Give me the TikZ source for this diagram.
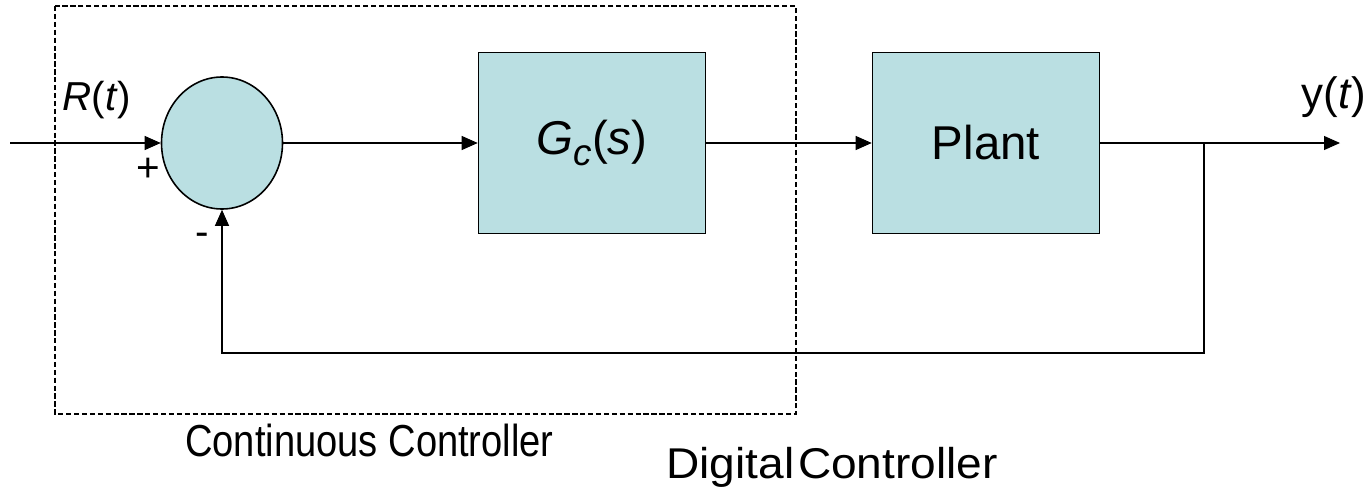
\documentclass[tikz,border=0pt]{standalone}
\usepackage{fontspec}
\setmainfont{Liberation Sans}
\usepackage{tikz}
\usetikzlibrary{positioning,arrows.meta,shapes.geometric}
\definecolor{blockFill}{HTML}{BADFE2}
\definecolor{lineDark}{HTML}{000000}

\begin{document}
\begin{tikzpicture}[x=0.2mm,y=-0.2mm,
  block/.style={draw=lineDark,line width=0.9pt,fill=blockFill,minimum width=4.54cm,minimum height=3.62cm,font=\fontsize{27}{30}\selectfont},
  sumnode/.style={ellipse,draw=lineDark,line width=0.9pt,fill=blockFill,minimum width=2.42cm,minimum height=2.64cm,inner sep=0pt},
  sig/.style={line width=0.6pt,-{Triangle[length=0.32cm,width=0.28cm]}},
  lbl/.style={font=\fontsize{23}{26}\selectfont,inner sep=0pt},
  caption/.style={font=\fontsize{25.5}{28}\selectfont,inner sep=0pt,anchor=base west},
  ctrlframe/.style={line width=0.6pt,dash pattern=on 3pt off 1.5pt}
]
  \useasboundingbox (0,0) rectangle (1372,490);
  % controller boundary
  \draw[ctrlframe] (55,6) rectangle (796,414);
  % blocks
  \node[sumnode] (sum) at (222,143) {};
  \node[block] (gc) at (592,143) {\textit{G}\raisebox{-0.45ex}{\fontsize{21}{23}\selectfont\textit{c}}(\textit{s})};
  \node[block] (plant) at (986,143) {Plant};
  \coordinate (rin) at (10,143);
  \coordinate (tap) at (1204,143);
  \coordinate (yout) at (1340,143);
  \coordinate (fb) at (222,353);
  % signal path
  \draw[sig] (rin) -- (sum);
  \draw[sig] (sum) -- (gc);
  \draw[sig] (gc) -- (plant);
  \draw[sig] (plant) -- (yout);
  \draw[sig] (tap) |- (fb) -- (sum);
  % labels
  \node[lbl] (rlabel) at (97,100) {\textit{R}(\textit{t})};
  \node[lbl] (plus) at (148,170) {+};
  \node[lbl] (minus) at (202,239) {-};
  \node[lbl,font=\fontsize{25}{28}\selectfont] (ylabel) at (1334,97) {y(\textit{t})};
  \node[caption,xscale=0.85] (ccLabel) at (185,456) {Continuous Controller};
  \node[caption,font=\fontsize{24.5}{27}\selectfont,xscale=1.07] (dcLabel) at (666,478) {Digital\hspace{0.08em}Controller};
\end{tikzpicture}
\end{document}
